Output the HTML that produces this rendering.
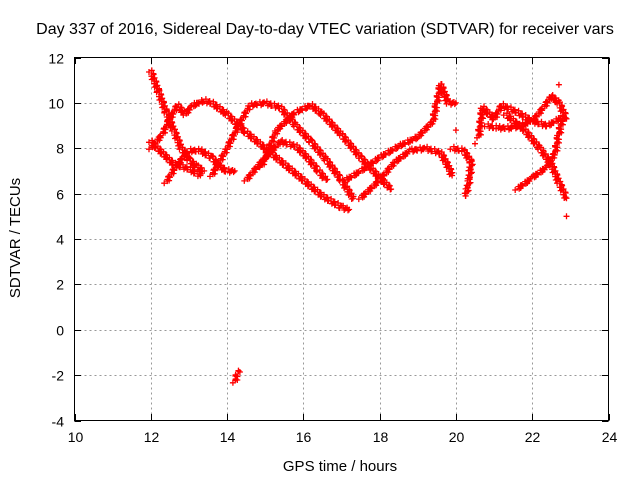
<!DOCTYPE html>
<html><head><meta charset="utf-8"><style>
body{margin:0;background:#fff}
svg{display:block;font-family:"Liberation Sans",sans-serif}
</style></head><body>
<svg id="chart" width="640" height="480" viewBox="0 0 640 480">
<text x="325" y="34" font-size="16" text-anchor="middle">Day 337 of 2016, Sidereal Day-to-day VTEC variation (SDTVAR) for receiver vars</text>
<text x="340" y="471" font-size="15" text-anchor="middle">GPS time / hours</text>
<text transform="translate(20,238) rotate(-90)" font-size="15" text-anchor="middle">SDTVAR / TECUs</text>
<g id="grid"></g>
<g id="ticks"></g>
<path id="marks" fill="none" stroke="#ff0000" stroke-width="1.3"></path>
<rect x="74.5" y="57.5" width="534" height="363" fill="none" stroke="#000" stroke-width="1"/>
</svg>
<script>
const xTicks=[10,12,14,16,18,20,22,24];
const yTicks=[-4,-2,0,2,4,6,8,10,12];
const track1=[[12.0,11.4],[12.2,10.5],[12.4,9.6],[12.6,8.8],[12.8,8.0],[13.0,7.5],[13.2,7.2],[13.4,7.0]];
const track2=[[12.0,8.0],[12.3,8.6],[12.5,9.3],[12.7,9.9],[12.9,9.5],[13.1,9.9],[13.4,10.1],[13.6,10.0],[14.0,9.5],[14.5,8.7],[15.0,8.0],[15.5,7.3],[16.0,6.6],[16.5,5.9],[17.0,5.4],[17.2,5.3]];
const track3=[[12.0,8.3],[12.3,7.8],[12.6,7.3],[13.0,7.1],[13.3,6.8]];
const track4=[[12.4,6.5],[12.7,7.3],[13.0,7.9],[13.3,7.9],[13.6,7.6],[13.8,7.2],[14.0,7.0],[14.2,7.0]];
const track5=[[13.6,6.8],[14.0,8.0],[14.3,9.0],[14.6,9.9],[15.0,10.0],[15.4,9.8],[15.8,9.0],[16.2,8.3],[16.6,7.5],[17.0,6.6],[17.3,5.8]];
const track6=[[14.9,7.2],[15.3,8.8],[15.8,9.6],[16.2,9.9],[16.5,9.5],[17.0,8.6],[17.5,7.6],[18.0,6.7],[18.3,6.2]];
const track7=[[14.5,6.6],[15.0,7.6],[15.4,8.3],[15.8,8.1],[16.1,7.6],[16.4,7.0],[16.6,6.6]];
const track8=[[17.1,6.6],[17.5,7.0],[18.0,7.6],[18.5,8.1],[19.0,8.5],[19.4,9.2],[19.5,10.0],[19.6,10.8],[19.8,10.0],[20.0,10.0]];
const track9=[[17.5,5.8],[18.0,6.6],[18.4,7.4],[18.8,7.9],[19.2,8.0],[19.6,7.8],[19.8,7.2],[19.9,6.8]];
const track10=[[19.9,8.0],[20.2,7.9],[20.4,7.4],[20.35,6.6],[20.25,5.9]];
const track11=[[20.6,8.5],[20.7,9.8],[21.0,9.3],[21.2,9.9],[21.6,9.6],[22.0,9.2],[22.3,9.8],[22.5,10.3],[22.7,10.0],[22.9,9.3]];
const track12=[[20.8,9.0],[21.1,8.9],[21.5,8.9],[22.0,9.2],[22.4,9.0],[22.8,9.4]];
const track13=[[21.6,6.2],[22.0,6.7],[22.4,7.2],[22.6,7.8],[22.7,8.6],[22.8,9.4]];
const track14=[[21.3,9.5],[21.8,8.8],[22.2,8.0],[22.5,7.3],[22.7,6.5],[22.9,5.8]];
const track15=[[14.2,-2.3],[14.3,-1.8]];
const singles=[[22.9,5.0],[20.0,8.8],[19.9,6.8],[22.7,10.8],[19.7,10.3],[20.5,8.2]];
const tracks=[track1,track2,track3,track4,track5,track6,track7,track8,track9,track10,track11,track12,track13,track14,track15];
const X=h=>74.5+(h-10)*(534/14);
const Y=v=>57.5+(12-v)*(363/16);
const svgNS="http://www.w3.org/2000/svg";
const grid=document.getElementById('grid'),ticks=document.getElementById('ticks');
function ln(p,x1,y1,x2,y2,st,da){const l=document.createElementNS(svgNS,'line');l.setAttribute('x1',x1);l.setAttribute('y1',y1);l.setAttribute('x2',x2);l.setAttribute('y2',y2);l.setAttribute('stroke',st);if(da)l.setAttribute('stroke-dasharray',da);p.appendChild(l);return l;}
function tx(s,x,y,a){const t=document.createElementNS(svgNS,'text');t.setAttribute('x',x);t.setAttribute('y',y);t.setAttribute('font-size','14');t.setAttribute('text-anchor',a);t.textContent=s;ticks.appendChild(t);return t;}
xTicks.forEach(v=>{const x=Math.round(X(v))+0.5;
 if(v>10&&v<24){const g=ln(grid,x,57.5,x,420.5,'#999','2,3');
 
 }
 ln(ticks,x,420.5,x,414,'#000');ln(ticks,x,57.5,x,64,'#000');
 const t=tx(String(v),x,442,'middle');
 
 });
yTicks.forEach(v=>{const y=Math.round(Y(v))+0.5;
 if(v>-4&&v<12){const g=ln(grid,74.5,y,608.5,y,'#999','2,3');
 
 }
 ln(ticks,74.5,y,81,y,'#000');ln(ticks,608.5,y,602,y,'#000');
 const t=tx(String(v),64,y+5,'end');
 
 });
let d='';
function plus(x,y){d+=`M${(x-3).toFixed(1)} ${y.toFixed(1)}h6M${x.toFixed(1)} ${(y-3).toFixed(1)}v6`;}
const jx=[-1.8,0.6,1.8,-0.6,1.2,-1.2,0];
const jy=[0.9,-1.8,0.3,1.8,-0.9,-0.3,1.2];
tracks.forEach(tr=>{for(let i=0;i<tr.length-1;i++){const x1=X(tr[i][0]),y1=Y(tr[i][1]),x2=X(tr[i+1][0]),y2=Y(tr[i+1][1]);
 const n=Math.max(1,Math.ceil(Math.hypot(x2-x1,y2-y1)/1.2));
 for(let k=0;k<n;k++){const t=k/n;plus(x1+(x2-x1)*t+jx[k%7],y1+(y2-y1)*t+jy[k%7]);}}
 const e=tr[tr.length-1];plus(X(e[0]),Y(e[1]));});
singles.forEach(p=>plus(X(p[0]),Y(p[1])));
document.getElementById('marks').setAttribute('d',d);
</script>
</body></html>
